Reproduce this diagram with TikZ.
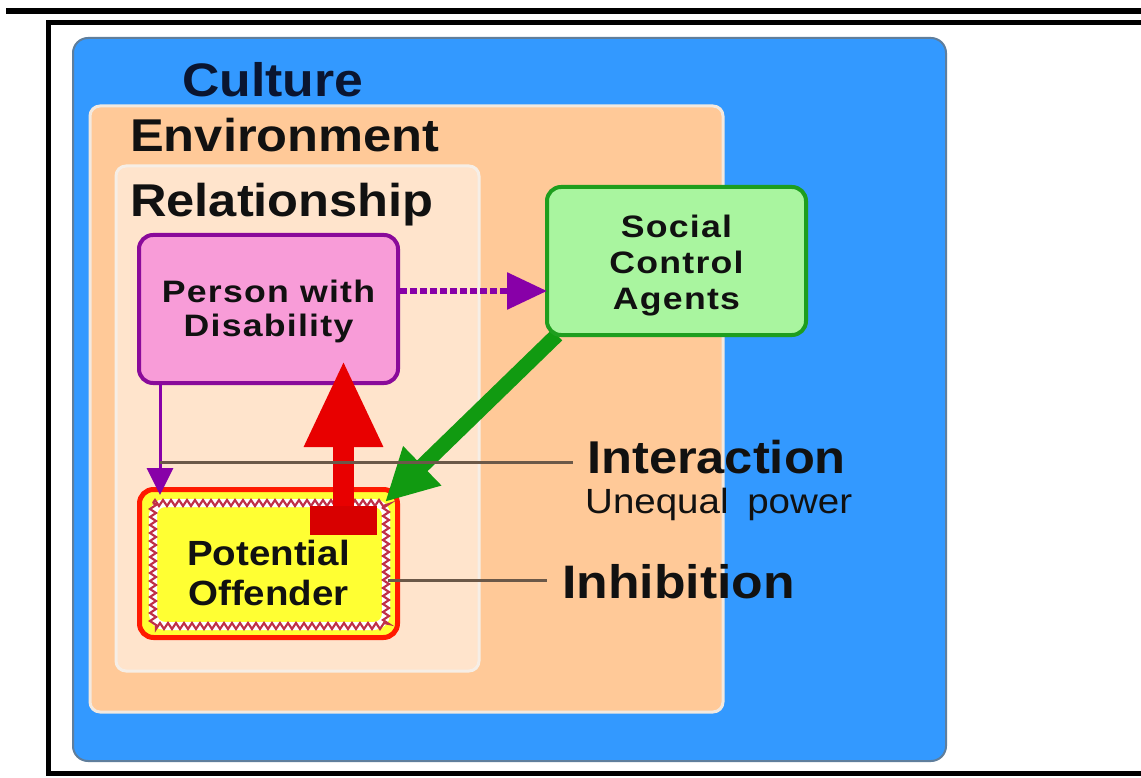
\documentclass[tikz,border=0pt]{standalone}
\usepackage{fontspec}
\setmainfont{Liberation Sans}
\newfontfamily\headfont[FakeStretch=1.1]{Liberation Sans}
\newfontfamily\boxfont[FakeStretch=1.15,LetterSpace=4]{Liberation Sans}
\usetikzlibrary{arrows.meta,decorations.pathmorphing,calc}

\definecolor{cultureblue}{HTML}{3399FF}
\definecolor{cultureedge}{HTML}{5F7E9C}
\definecolor{envpeach}{HTML}{FFC998}
\definecolor{envedge}{HTML}{F3E9DF}
\definecolor{relpeach}{HTML}{FFE4CC}
\definecolor{reledge}{HTML}{F6EEE6}
\definecolor{personpink}{HTML}{F89CD8}
\definecolor{personedge}{HTML}{8A0A9A}
\definecolor{socialgreen}{HTML}{A9F59F}
\definecolor{socialedge}{HTML}{1E9E1E}
\definecolor{offyellow}{HTML}{FFFF33}
\definecolor{offred}{HTML}{FF1A00}
\definecolor{zigred}{HTML}{C03048}
\definecolor{arrowred}{HTML}{E80000}
\definecolor{blockred}{HTML}{D80000}
\definecolor{arrowgreen}{HTML}{119A11}
\definecolor{linkpurple}{HTML}{8800A8}
\definecolor{leadergray}{HTML}{6B5848}
\definecolor{navytext}{HTML}{0A1530}
\definecolor{inktext}{HTML}{111111}

% a centred stack of lines, drawn #1 lower than its box says
\newcommand{\lowstack}[2]{\raisebox{-#1}[\height][\depth]{\begin{tabular}{@{}c@{}}#2\end{tabular}}}

\begin{document}
\begin{tikzpicture}[x=1pt,y=-1pt,
  region/.style={rounded corners=#1},
  agentbox/.style={rectangle, rounded corners=14pt, outer sep=0pt, inner sep=0pt,
    minimum width=259pt, minimum height=148pt, line width=4pt, align=center,
    text=inktext, font=\boxfont\bfseries\fontsize{31}{34}\selectfont},
  heading/.style={anchor=base west, inner sep=0pt, text=inktext,
    font=\headfont\bfseries\fontsize{46}{50}\selectfont},
  leader/.style={draw=leadergray, line width=3pt},
]
\useasboundingbox (0,0) rectangle (1141,778);
\fill[white] (0,0) rectangle (1141,778);

% page frame rules
\draw[line width=6pt] (6,11) -- (1141,11);
\draw[line width=5pt] (1141,23) -- (48,23) -- (48,773) -- (1141,773);

% nested contexts
\draw[region=15pt, fill=cultureblue, draw=cultureedge, line width=2pt] (73,38) rectangle (946,761);
\draw[region=10pt, fill=envpeach, draw=envedge, line width=3pt] (90,106) rectangle (723,712);
\draw[region=10pt, fill=relpeach, draw=reledge, line width=3pt] (116,166) rectangle (479,671);

% potential offender with inhibition border
\node[agentbox, fill=offyellow, draw=offred, line width=5pt, minimum width=258pt,
      font=\headfont\bfseries\fontsize{35}{40}\selectfont]
  (offender) at (268.5,563.5) {\lowstack{14pt}{Potential\\Offender}};
\draw[white, line width=8pt, rounded corners=12pt] (153,503) rectangle (386,626);
\draw[zigred, line width=2.2pt, decorate,
      decoration={zigzag, segment length=8pt, amplitude=3pt}] (153,503) rectangle (386,626);

% social control agents act on the offender
\coordinate (greenStart) at (557,335);
\coordinate (greenTip) at (385,502);
\draw[arrowgreen, line width=15pt, -{Triangle[length=52pt,width=51pt]}] (greenStart) -- (greenTip);

\node[agentbox, fill=socialgreen, draw=socialedge, font=\boxfont\bfseries\fontsize{31}{36}\selectfont]
  (social) at (676.5,261) {\lowstack{5pt}{Social\\Control\\Agents}};
\node[agentbox, fill=personpink, draw=personedge]
  (person) at (268.5,309) {\lowstack{4pt}{Person with\\Disability}};

% offender acts on the person
\node[fill=blockred, inner sep=0pt, outer sep=0pt, minimum width=67pt, minimum height=29pt] (redBlock) at (343.5,520.5) {};
\coordinate (redTip) at (343.5,360);
\draw[arrowred, line width=21pt, -{Triangle[length=87pt,width=73pt]}] (redBlock.north) -- (redTip);

% person reaches out to social control agents
\coordinate (dotStart) at (400,291);
\draw[linkpurple, line width=6pt, dash pattern=on 7pt off 3pt, -{Triangle[length=40pt,width=36pt]}]
  (dotStart) -- (social.west |- dotStart);

% person meets offender
\coordinate (purpTop) at (160,384);
\coordinate (purpTip) at (160,495);
\draw[linkpurple, line width=3pt, -{Triangle[length=27pt,width=26pt]}] (purpTop) -- (purpTip);

% labels
\node[heading, text=navytext, font=\headfont\bfseries\fontsize{47}{50}\selectfont] (culture) at (182,97) {Culture};
\node[heading] (environment) at (130,152) {Environment};
\node[heading] (relationship) at (130,217) {Relationship};
\node[heading] (interaction) at (587,473) {Interaction};
\node[anchor=base west, inner sep=0pt, text=inktext, font=\headfont\fontsize{35}{38}\selectfont]
  (unequal) at (585,513) {Unequal\hspace{8pt} power};
\node[heading, font=\headfont\bfseries\fontsize{47}{50}\selectfont] (inhibition) at (562,598) {Inhibition};

% leader lines to the labels
\coordinate (interStart) at (160,462);
\coordinate (inhibStart) at (388,580);
\draw[leader] (interStart) -- ([xshift=-14pt]interaction.west |- interStart);
\draw[leader] (inhibStart) -- ([xshift=-15pt]inhibition.west |- inhibStart);
\end{tikzpicture}
\end{document}
